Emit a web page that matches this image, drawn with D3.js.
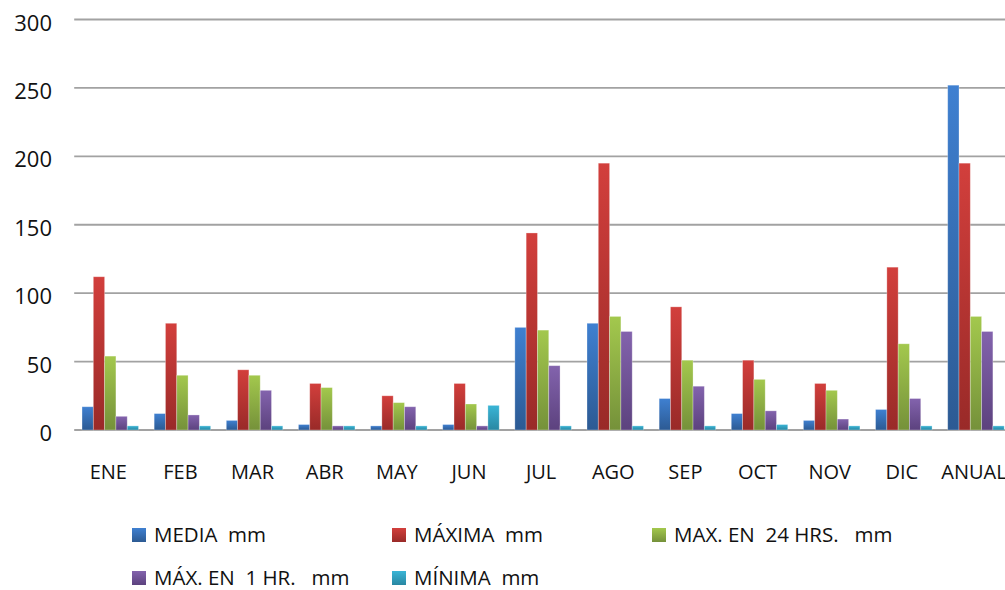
<!DOCTYPE html>
<html>
<head>
<meta charset="utf-8">
<script src="https://cdn.jsdelivr.net/npm/d3@7/dist/d3.min.js"></script>
<style>
  html, body { margin: 0; padding: 0; background: #ffffff; }
  svg { display: block; }
  text { font-family: "Open Sans", "DejaVu Sans", sans-serif; fill: #111; white-space: pre; }
</style>
</head>
<body>
<div id="chart"></div>
<script>
// Precipitation statistics per month (mm)
const categories = ["ENE", "FEB", "MAR", "ABR", "MAY", "JUN", "JUL", "AGO", "SEP", "OCT", "NOV", "DIC", "ANUAL"];
const media   = [17, 12, 7, 4, 3, 4, 75, 78, 23, 12, 7, 15, 252];
const maxima  = [112, 78, 44, 34, 25, 34, 144, 195, 90, 51, 34, 119, 195];
const max24   = [54, 40, 40, 31, 20, 19, 73, 83, 51, 37, 29, 63, 83];
const max1    = [10, 11, 29, 3, 17, 3, 47, 72, 32, 14, 8, 23, 72];
const minima  = [3, 3, 3, 3, 3, 18, 3, 3, 3, 4, 3, 3, 3];
const seriesNames = ["MEDIA  mm", "MÁXIMA  mm", "MAX. EN  24 HRS.   mm", "MÁX. EN  1 HR.   mm", "MÍNIMA  mm"];
const yTicks = [0, 50, 100, 150, 200, 250, 300];

const seriesValues = [media, maxima, max24, max1, minima];
const colorsTop    = ["#3f80d1", "#d23f3c", "#a3c84d", "#8363ad", "#3ab5d6"];
const colorsBottom = ["#2c5a93", "#992a28", "#75913a", "#5c427e", "#2987a2"];

const W = 1005, H = 590;
const svg = d3.select("#chart").append("svg").attr("width", W).attr("height", H);

// vertical gradients, one per series
const defs = svg.append("defs");
seriesNames.forEach((_, i) => {
  const g = defs.append("linearGradient")
    .attr("id", "grad" + i).attr("x1", 0).attr("y1", 0).attr("x2", 0).attr("y2", 1);
  g.append("stop").attr("offset", "0%").attr("stop-color", colorsTop[i]);
  g.append("stop").attr("offset", "100%").attr("stop-color", colorsBottom[i]);
});

const plotLeft = 74.2, step = 72.14;
const x = d3.scaleBand()
  .domain(categories)
  .range([plotLeft, plotLeft + step * categories.length])
  .paddingInner(0.217)
  .paddingOuter(0.1085);
const xs = d3.scaleBand().domain(d3.range(seriesNames.length)).range([0, x.bandwidth()]);
const y = d3.scaleLinear().domain([0, 300]).range([430, 19.5]);

// gridlines
svg.append("g").selectAll("line").data(yTicks).join("line")
  .attr("x1", plotLeft).attr("x2", W + 10)
  .attr("y1", d => y(d)).attr("y2", d => y(d))
  .attr("stroke", "#a2a2a2").attr("stroke-width", 1.8);

// y axis labels
const yAxis = d3.axisLeft(y).tickValues(yTicks).tickSize(0).tickPadding(0);
const gy = svg.append("g").attr("transform", "translate(52,0)").call(yAxis);
gy.select(".domain").remove();
gy.selectAll("text")
  .attr("font-size", 22).attr("font-family", "Open Sans, sans-serif")
  .attr("fill", "#111").attr("dy", "0.48em").attr("text-anchor", "end");

// bars
const groups = svg.append("g").selectAll("g").data(categories).join("g")
  .attr("transform", d => `translate(${x(d)},0)`);
groups.selectAll("rect")
  .data((c, ci) => seriesValues.map((vals, si) => ({ si, v: vals[ci] })))
  .join("rect")
  .attr("x", d => xs(d.si))
  .attr("width", xs.bandwidth())
  .attr("y", d => y(d.v))
  .attr("height", d => y(0) - y(d.v))
  .attr("fill", d => `url(#grad${d.si})`)
  .attr("stroke", "rgba(255,255,255,0.35)")
  .attr("stroke-width", 0.8);

// x axis labels
const xAxis = d3.axisBottom(x).tickSize(0).tickPadding(0);
const gx = svg.append("g").attr("transform", "translate(-2,479)").call(xAxis);
gx.select(".domain").remove();
gx.selectAll("text")
  .attr("font-size", 20).attr("font-family", "Open Sans, sans-serif")
  .attr("fill", "#111").attr("dy", 0).attr("y", 0);

// legend
const legendPos = [[132, 528], [392, 528], [652, 528], [132, 571], [392, 571]];
const legend = svg.append("g").selectAll("g").data(seriesNames).join("g")
  .attr("transform", (d, i) => `translate(${legendPos[i][0]},${legendPos[i][1]})`);
legend.append("rect")
  .attr("width", 14).attr("height", 14)
  .attr("fill", (d, i) => `url(#grad${i})`);
legend.append("text")
  .attr("x", 22).attr("y", 14)
  .attr("font-size", 20.5)
  .text(d => d);
</script>
</body>
</html>
